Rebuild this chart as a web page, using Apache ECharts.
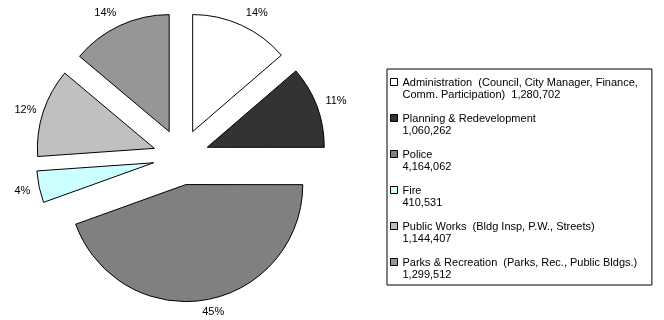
<!DOCTYPE html>
<html>
<head>
<meta charset="utf-8">
<script src="https://cdn.jsdelivr.net/npm/echarts@6/dist/echarts.min.js"></script>
<style>
  html, body { margin: 0; padding: 0; background: #fff; }
  #main { width: 664px; height: 320px; }
</style>
</head>
<body>
<div id="main"></div>
<script>
// budget categories, clockwise from 12 o'clock
var categories = [
	'Administration  (Council, City Manager, Finance,\nComm. Participation)',
	'Planning & Redevelopment',
	'Police',
	'Fire',
	'Public Works  (Bldg Insp, P.W., Streets)',
	'Parks & Recreation  (Parks, Rec., Public Bldgs.)'
];
var amounts = [1280702, 1060262, 4164062, 410531, 1144407, 1299512];
var colors = ['#ffffff', '#333333', '#808080', '#ccffff', '#c0c0c0', '#969696'];

var font = 'Liberation Sans, Arial, sans-serif';

// small nudges so the % labels sit where excel put them
var labelNudge = [[-4, -5], [-4, -3], [-10, 4], [4, 2], [6, 0], [5, -5]];

var pieData = [];
for (var i = 0; i < categories.length; i++) {
	pieData.push({
		name: categories[i],
		value: amounts[i],
		selected: true,
		itemStyle: { color: colors[i] }
	});
}

var myChart = echarts.init(document.getElementById('main'), null, { renderer: 'canvas' });
var option = {
	animation: false,
	backgroundColor: '#fff',
	legend: {
		orient: 'vertical',
		left: 387,
		top: 69,
		padding: [7, 14, 4, 3],
		itemWidth: 7,
		itemHeight: 24,
		itemGap: 11,
		// square at the top of a tall box so it sits on the first text line
		icon: 'path://M0,0 M0,2h7v7h-7z M0,24',
		selectedMode: false,
		borderColor: '#000',
		borderWidth: 1,
		itemStyle: { borderWidth: 1, borderColor: '#000' },
		textStyle: {
			fontFamily: font,
			fontSize: 11,
			lineHeight: 12,
			color: '#000'
		},
		formatter: function(name) {
			var idx = categories.indexOf(name);
			var sep = name.indexOf('\n') >= 0 ? '  ' : '\n';
			return name + sep + amounts[idx].toLocaleString('en-US');
		}
	},
	series: [{
		type: 'pie',
		center: [181, 157],
		radius: 117,
		startAngle: 90,
		clockwise: true,
		selectedMode: 'multiple',
		selectedOffset: 28,
		percentPrecision: 0,
		avoidLabelOverlap: false,
		itemStyle: {
			borderColor: '#000',
			borderWidth: 1
		},
		label: {
			show: true,
			position: 'outside',
			formatter: '{d}%',
			fontFamily: font,
			fontSize: 11,
			color: '#000'
		},
		labelLine: {
			show: false,
			length: 8,
			length2: 0
		},
		labelLayout: function(params) {
			var n = labelNudge[params.dataIndex];
			return { dx: n[0], dy: n[1] };
		},
		emphasis: { disabled: true },
		data: pieData
	}]
};
myChart.setOption(option);
</script>
</body>
</html>
